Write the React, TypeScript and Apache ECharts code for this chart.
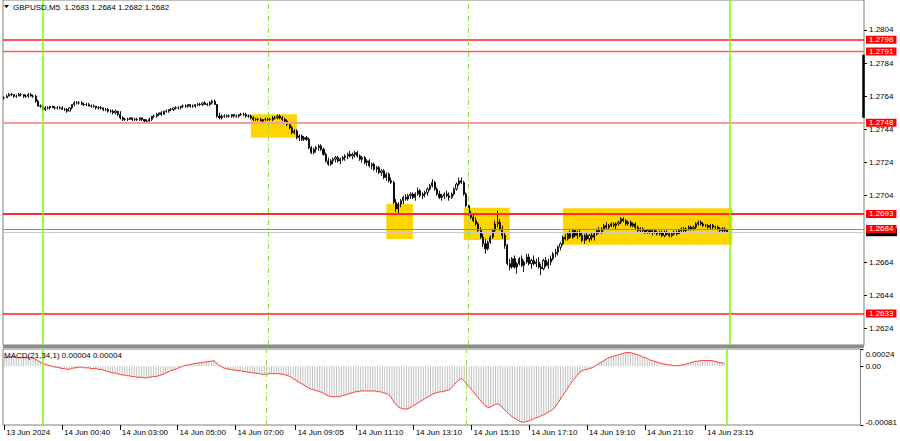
import React, { useEffect, useRef } from "react";
import * as echarts from "echarts";

const FONT = "'Liberation Sans', Arial, sans-serif";

const HEADER_TEXT = "GBPUSD,M5  1.2683 1.2684 1.2682 1.2682";
const MACD_TEXT = "MACD(21,34,1) 0.00004 0.00004";

// prices below are written in pips above PRICE_BASE
const PRICE_BASE = 1.26;

// M5 bars [open, high, low, close] (pips above PRICE_BASE)
const BARS_13JUN: number[][] = [
  [163,164,162,163],[163,165,163,164],[164,166,164,165],[165,166,164,165],[165,165,163,164],
  [164,165,163,164],[164,166,164,165],[165,166,164,165],[165,165,163,164],[164,165,163,164],
  [164,166,163,165],[165,166,164,164],[164,165,163,164],[164,165,160,161],[161,162,158,158],
  [158,159,157,158],
];

const BARS_ASIA: number[][] = [
  [158,159,155,156],[156,158,155,157],[157,158,156,157],[157,158,156,158],[158,158,157,157],
  [157,158,156,157],[157,158,156,157],[157,158,156,157],[157,158,156,156],[156,157,155,156],
  [156,157,154,155],[155,157,155,157],[157,159,156,159],[159,161,158,160],[160,161,159,160],
  [160,161,159,160],[160,161,159,159],[159,160,158,159],[159,160,158,159],[159,160,158,158],
  [158,159,157,158],[158,159,157,158],[158,158,156,157],[157,158,156,157],[157,158,156,157],
  [157,157,155,156],[156,157,155,156],[156,157,154,155],[155,156,154,155],[155,156,153,154],
  [154,156,153,155],[155,155,152,153],[153,155,150,151],[151,152,149,150],[150,151,149,150],
  [150,151,149,150],[150,151,150,151],[151,151,149,150],[150,151,149,150],[150,151,149,150],
  [150,151,149,151],[151,151,149,150],[150,150,148,149],[149,150,148,149],[149,151,148,150],
  [150,152,149,152],[152,153,151,152],[152,154,151,153],[153,154,152,154],[154,155,152,153],
  [153,155,153,155],[155,156,154,155],[155,156,154,156],[156,157,155,156],[156,157,155,157],
  [157,158,156,157],[157,158,156,157],[157,158,156,158],[158,159,157,158],[158,159,157,158],
  [158,159,157,159],[159,159,157,158],[158,159,157,158],[158,159,157,159],[159,160,158,159],
  [159,160,158,159],[159,160,158,160],[160,161,159,159],[159,160,158,159],[159,161,158,160],
  [160,162,159,161],[161,162,159,159],[159,159,151,152],[152,154,150,151],[151,153,150,152],
  [152,153,151,152],[152,153,151,152],[152,153,151,152],[152,153,151,153],[153,153,151,152],
];

const BARS_EUROPE: number[][] = [
  [152,153,151,152],[152,153,151,153],[153,154,152,153],[153,154,152,153],[153,154,151,152],
  [152,153,151,152],[152,153,150,151],[151,152,149,150],[150,151,149,150],[150,151,149,150],
  [150,151,149,149],[149,150,148,150],[150,151,149,150],[150,151,149,150],[150,151,149,150],
  [150,152,149,151],[151,152,150,151],[151,153,150,152],[152,153,150,151],[151,152,149,150],
  [150,151,148,149],[149,150,146,147],[147,148,144,145],[145,146,141,142],[142,144,141,143],
  [143,144,138,139],[139,141,137,140],[140,141,137,138],[138,140,137,139],[139,140,137,138],
  [138,139,132,133],[133,134,129,130],[130,133,129,132],[132,134,130,133],[133,135,131,134],
  [134,135,131,132],[132,133,128,129],[129,130,124,125],[125,127,122,123],[123,126,122,125],
  [125,127,123,126],[126,128,124,127],[127,128,124,125],[125,127,123,126],[126,128,125,127],
  [127,129,125,128],[128,130,126,129],[129,131,127,128],[128,130,126,129],[129,131,127,130],
  [130,131,127,128],[128,129,125,126],[126,128,124,127],[127,128,123,124],[124,126,122,125],
  [125,126,121,122],[122,124,120,123],[123,124,119,120],[120,122,118,121],[121,122,117,118],
  [118,120,116,119],[119,120,114,115],[115,118,113,117],[117,118,112,113],[113,115,111,112],
  [112,113,99,100],[100,102,94,96],[96,100,93,99],[99,102,97,101],[101,104,99,103],
  [103,105,101,102],[102,105,101,104],[104,106,102,105],[105,106,102,103],[103,106,101,105],
  [105,109,104,107],[107,108,103,104],[104,106,102,105],[105,107,103,106],[106,109,104,108],
  [108,111,107,110],[110,114,109,112],[112,113,107,108],[108,109,104,105],[105,107,102,103],
  [103,105,101,104],[104,106,102,105],[105,107,103,104],[104,106,101,103],[103,106,102,105],
  [105,109,104,108],[108,112,107,111],[111,115,110,113],[113,115,111,112],[112,113,104,105],
  [105,106,97,98],
];

const BARS_US: number[][] = [
  [98,99,92,93],[93,95,90,91],[91,93,88,89],[89,91,86,87],[87,88,82,83],
  [83,85,78,79],[79,81,73,75],[75,78,69,72],[72,77,71,76],[76,80,75,79],
  [79,84,78,83],[83,89,82,87],[87,95,85,88],[88,90,83,84],[84,86,78,80],
  [80,82,72,74],[74,75,62,63],[63,66,59,61],[61,67,60,66],[66,68,60,61],
  [61,64,57,63],[63,67,62,66],[66,68,61,62],[62,65,58,64],[64,69,63,67],
  [67,69,62,63],[63,66,60,65],[65,68,62,63],[63,66,61,64],[64,67,60,61],
  [61,63,56,60],[60,66,59,65],[65,67,61,62],[62,66,60,64],[64,68,62,66],
  [66,70,65,69],[69,72,67,70],[70,74,68,73],[73,76,71,75],[75,80,74,79],
  [79,81,77,78],[78,82,77,81],[81,83,78,79],[79,84,78,83],[83,84,79,80],
  [80,83,78,82],[82,84,79,80],[80,82,76,77],[77,81,75,80],[80,82,77,78],
  [78,81,76,80],[80,82,77,79],[79,82,77,81],[81,84,80,83],[83,85,81,82],
  [82,85,81,84],[84,87,83,86],[86,88,84,85],[85,87,84,86],[86,88,85,87],
  [87,88,85,86],[86,88,84,87],[87,89,86,88],[88,91,87,90],[90,91,88,89],
  [89,90,86,87],[87,89,86,88],[88,89,85,86],[86,88,85,87],[87,88,84,85],
  [85,86,82,83],[83,85,82,84],[84,85,82,83],[83,84,81,82],[82,84,81,83],
  [83,84,81,82],[82,84,80,83],[83,84,81,82],[82,83,80,81],[81,83,80,82],
  [82,83,79,80],[80,83,79,82],[82,83,80,81],[81,82,79,80],[80,82,79,81],
  [81,83,80,82],[82,83,80,81],[81,84,81,83],[83,85,82,84],[84,85,82,83],
  [83,85,82,84],[84,86,83,85],[85,86,83,84],[84,86,83,85],[85,88,84,87],
  [87,89,86,88],[88,89,86,87],[87,88,85,86],[86,87,85,86],[86,87,84,85],
  [85,87,84,86],[86,87,84,85],[85,86,84,85],[85,86,83,84],[84,85,82,83],
  [83,85,82,84],[84,85,82,83],[83,84,82,82],
];

// MACD(21,34,1) per bar, in units of 0.00001
const MACD_13JUN = [12,12,13,13,13,12,12,12,12,12,12,12,11,10,8,6];
const MACD_ASIA = [
  4,3,2,1,0,-1,-1,-2,-3,-3,-4,-4,-3,-2,-2,-1,-1,-2,-2,-2,
  -3,-3,-3,-4,-4,-5,-6,-7,-8,-9,-9,-10,-11,-12,-12,-13,-13,-14,-14,-15,
  -15,-15,-16,-16,-15,-15,-14,-14,-13,-12,-11,-9,-8,-6,-5,-4,-3,-1,0,1,
  2,2,3,4,4,5,5,6,6,7,7,8,5,2,0,-2,-3,-4,-4,-5,
];
const MACD_EUROPE = [
  -5,-6,-6,-7,-7,-8,-8,-9,-9,-10,-10,-11,-11,-11,-10,-10,-10,-10,-10,-11,
  -11,-12,-13,-15,-17,-19,-21,-23,-25,-27,-29,-31,-32,-33,-34,-35,-36,-38,-40,-41,
  -42,-42,-42,-42,-41,-40,-39,-38,-37,-36,-35,-35,-34,-34,-34,-34,-34,-34,-34,-35,
  -35,-36,-37,-38,-40,-45,-50,-54,-57,-58,-59,-59,-58,-56,-54,-52,-50,-48,-46,-44,
  -42,-40,-38,-37,-36,-35,-35,-34,-33,-32,-29,-25,-21,-18,-17,-20,
];
const MACD_US = [
  -24,-28,-32,-36,-40,-44,-48,-52,-55,-57,-56,-54,-52,-52,-54,-57,-61,-64,-67,-70,
  -72,-74,-76,-77,-77,-76,-75,-74,-72,-71,-70,-68,-67,-65,-63,-61,-59,-55,-50,-45,
  -40,-35,-30,-25,-20,-16,-12,-8,-6,-5,-4,-3,-2,0,2,4,6,8,10,12,
  13,14,15,16,17,18,19,19,19,18,17,16,15,13,12,11,9,8,7,6,
  5,4,3,3,2,2,1,1,1,2,2,3,4,5,6,7,7,8,8,8,
  8,8,8,7,6,5,5,4,
];

// time slots: bars plus the empty shift area on the right
const TOTAL_SLOTS = 356;
const FIRST_BAR_UTC = Date.UTC(2024, 5, 13, 22, 40);
const MISSING_TIMES = ["01:00", "01:05", "01:10", "01:15"];

const TIME_LABEL_SLOTS = [0, 24, 48, 72, 96, 121, 146, 170, 194, 218, 242, 266, 291];
const TIME_LABELS = [
  "13 Jun 2024", "14 Jun 00:40", "14 Jun 03:00", "14 Jun 05:00", "14 Jun 07:00",
  "14 Jun 09:05", "14 Jun 11:10", "14 Jun 13:10", "14 Jun 15:10", "14 Jun 17:10",
  "14 Jun 19:10", "14 Jun 21:10", "14 Jun 23:15",
];

// 1.2684 on the price scale is hidden by the 1.2684 level label
const PRICE_TICKS = [1.2624, 1.2644, 1.2664, 1.2704, 1.2724, 1.2744, 1.2764, 1.2784, 1.2804];
const MACD_TICKS = [-0.00081, 0, 0.00024];
const MACD_TICK_LABELS = ["-0.00081", "0.00", "0.00024"];

const LEVELS = [1.2798, 1.2791, 1.2748, 1.2693, 1.2684, 1.2633];
const BID = 1.2682;

const SOLID_VLINE_SLOTS = [16, 300];
const DASHED_VLINE_SLOTS = [109, 192];

const ZONE_SLOTS = [[102, 121], [158, 169], [190, 209], [231, 301]];
const ZONE_PRICES = [[1.2739, 1.27531], [1.26779, 1.2699], [1.26773, 1.26968], [1.26745, 1.26964]];

const EDGE_BAR_SLOT = 355;
const EDGE_BAR_PRICES = [1.2751, 1.2789];

function buildSlots(): string[] {
  const out: string[] = [];
  let t = FIRST_BAR_UTC;
  while (out.length < TOTAL_SLOTS) {
    const d = new Date(t);
    const hm = String(d.getUTCHours()).padStart(2, "0") + ":" + String(d.getUTCMinutes()).padStart(2, "0");
    const day = d.getUTCDate();
    t += 5 * 60000;
    if (day === 14 && MISSING_TIMES.includes(hm)) continue;
    out.push(day + " Jun " + hm);
  }
  return out;
}

const px = (p: number) => +(PRICE_BASE + p / 10000).toFixed(5);

export default function App() {
  const ref = useRef<HTMLDivElement>(null);
  useEffect(() => {
    if (!ref.current) return;
    const chart = echarts.init(ref.current, null, { renderer: "svg" });
    const slots = buildSlots();
    const bars = [...BARS_13JUN, ...BARS_ASIA, ...BARS_EUROPE, ...BARS_US];
    const candles = bars.map(([o, h, l, c]) => [px(o), px(c), px(l), px(h)]);
    const macd = [...MACD_13JUN, ...MACD_ASIA, ...MACD_EUROPE, ...MACD_US].map((v) => +(v / 100000).toFixed(5));
    const labelMap = new Map<number, string>();
    TIME_LABEL_SLOTS.forEach((s, k) => labelMap.set(s, TIME_LABELS[k]));

    const levelColors = ["#ff1a1a", "#ff5a5a", "#ff9a9a", "#ff2a2a", "#ff5a5a", "#ff2020"];
    const levelWidths = [1.6, 1.4, 2, 2, 1.2, 1.5];

    const vLines = [
      ...SOLID_VLINE_SLOTS.map((s) => ({ xAxis: s, lineStyle: { color: "#7cfc00", width: 1.5, type: "solid" } })),
      ...DASHED_VLINE_SLOTS.map((s) => ({ xAxis: s, lineStyle: { color: "#9ad84a", width: 1, type: [5, 3, 1, 3] } })),
    ];
    const vMark = { silent: true, precision: 6, symbol: ["none", "none"], label: { show: false }, data: vLines };

    const text = { fontFamily: FONT, fontSize: 8, color: "#000" };

    const option: any = {
      animation: false,
      backgroundColor: "#ffffff",
      grid: [
        { left: 3, top: 0, width: 861, height: 345, show: true, borderColor: "#808080", borderWidth: 1 },
        { left: 3, top: 349, width: 861, height: 76, show: true, borderColor: "#808080", borderWidth: 1 },
      ],
      xAxis: [
        { type: "category", gridIndex: 0, data: slots, boundaryGap: true, show: false },
        {
          type: "category", gridIndex: 1, data: slots, boundaryGap: true,
          axisLine: { show: false, onZero: false },
          axisTick: { show: true, interval: (i: number) => labelMap.has(i), alignWithLabel: true, length: 5, lineStyle: { color: "#000" } },
          axisLabel: {
            ...text, interval: (i: number) => labelMap.has(i), formatter: (_v: string, i: number) => labelMap.get(i) ?? "",
            align: "left", margin: 3, padding: [0, 0, 0, 2],
          },
          splitLine: { show: false },
        },
      ],
      yAxis: [
        {
          type: "value", gridIndex: 0, position: "right", min: 1.2614, max: 1.2822,
          splitLine: { show: false }, axisLine: { show: false },
          axisTick: { show: true, customValues: PRICE_TICKS, length: 3, lineStyle: { color: "#000" } },
          axisLabel: { ...text, customValues: PRICE_TICKS, formatter: (v: number) => v.toFixed(4), margin: 5 },
        },
        {
          type: "value", gridIndex: 1, position: "right", min: -0.00081, max: 0.00024,
          splitLine: { show: false }, axisLine: { show: false },
          axisTick: { show: true, customValues: MACD_TICKS, length: 3, lineStyle: { color: "#000" } },
          axisLabel: {
            ...text, customValues: MACD_TICKS, margin: 5,
            formatter: (v: number) => {
              const k = MACD_TICKS.findIndex((t) => Math.abs(t - v) < 1e-7);
              if (k === 2) return "{top|" + MACD_TICK_LABELS[k] + "}";
              if (k === 0) return "{bot|" + MACD_TICK_LABELS[k] + "}";
              return k >= 0 ? MACD_TICK_LABELS[k] : "";
            },
            rich: {
              top: { ...text, padding: [10, 0, 0, 0] },
              bot: { ...text, padding: [0, 0, 6, 0] },
            },
          },
        },
      ],
      series: [
        {
          name: "zones", type: "line", xAxisIndex: 0, yAxisIndex: 0, data: [], z: 1, silent: true,
          markArea: {
            silent: true, precision: 6,
            itemStyle: { color: "#ffd500", opacity: 1 },
            data: ZONE_SLOTS.map((s, k) => [
              { xAxis: s[0], yAxis: ZONE_PRICES[k][0] },
              { xAxis: s[1], yAxis: ZONE_PRICES[k][1] },
            ]),
          },
        },
        {
          name: "bid", type: "line", xAxisIndex: 0, yAxisIndex: 0, data: [], z: 2, silent: true,
          markLine: {
            silent: true, precision: 6, symbol: ["none", "none"],
            data: [{
              yAxis: BID, lineStyle: { color: "#c8c8c8", width: 1, type: "solid" },
              label: {
                show: true, position: "end", distance: 2, formatter: "{b|}",
                rich: { b: { width: 31, height: 8, backgroundColor: "#000" } },
              },
            }],
          },
        },
        {
          name: "GBPUSD", type: "candlestick", xAxisIndex: 0, yAxisIndex: 0, data: candles, z: 3,
          barWidth: 1.6,
          itemStyle: { color: "#ffffff", color0: "#000000", borderColor: "#000000", borderColor0: "#000000", borderWidth: 0.9 },
          markLine: {
            silent: true, precision: 6, symbol: ["none", "none"], label: { show: false },
            data: [[
              { coord: [EDGE_BAR_SLOT, EDGE_BAR_PRICES[0]], lineStyle: { color: "#000", width: 2.5, type: "solid" } },
              { coord: [EDGE_BAR_SLOT, EDGE_BAR_PRICES[1]] },
            ]],
          },
        },
        {
          name: "levels", type: "line", xAxisIndex: 0, yAxisIndex: 0, data: [], z: 5, silent: true,
          markLine: {
            silent: true, precision: 6, symbol: ["none", "none"],
            data: LEVELS.map((lv, k) => ({
              yAxis: lv,
              lineStyle: { color: levelColors[k], width: levelWidths[k], type: "solid" },
              label: {
                show: true, position: "end", distance: 2, formatter: lv.toFixed(4),
                backgroundColor: "#ff0000", color: "#ffffff", fontFamily: FONT, fontSize: 8, lineHeight: 8, padding: [0, 3],
              },
            })),
          },
        },
        { name: "vlines", type: "line", xAxisIndex: 0, yAxisIndex: 0, data: [], z: 6, silent: true, markLine: vMark },
        {
          name: "MACD", type: "bar", xAxisIndex: 1, yAxisIndex: 1, data: macd, barWidth: 1,
          itemStyle: { color: "#c0c0c0" }, z: 2, silent: true,
        },
        {
          name: "Signal", type: "line", xAxisIndex: 1, yAxisIndex: 1, data: macd, symbol: "none",
          lineStyle: { color: "#ff3b3b", width: 1 }, z: 3, silent: true,
          markLine: vMark,
        },
      ],
      graphic: [
        { type: "rect", shape: { x: 3, y: 345, width: 861, height: 3 }, style: { fill: "#8c8c8c" }, z: 10 },
        { type: "polygon", shape: { points: [[4, 5], [9, 5], [6.5, 8]] }, style: { fill: "#000" }, z: 10 },
        { type: "text", left: 13, top: 3, style: { text: HEADER_TEXT, font: "8px " + FONT, fill: "#000" }, z: 10 },
        { type: "text", left: 4, top: 351, style: { text: MACD_TEXT, font: "8px " + FONT, fill: "#000" }, z: 10 },
      ],
    };
    chart.setOption(option);
    return () => chart.dispose();
  }, []);
  return <div ref={ref} style={{ position: "fixed", left: 0, top: 0, width: 900, height: 441 }} />;
}
